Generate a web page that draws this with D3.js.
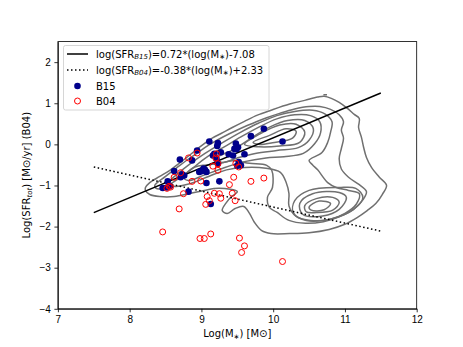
<!DOCTYPE html>
<meta charset="utf-8">
<style>
body { margin: 0; background: #fff; }
svg { font-family: "DejaVu Sans", sans-serif; font-size: 10px; }
.axis path, .axis line { stroke: #000; stroke-width: 0.8; }
.axis text { font-size: 10px; fill: #000; }
.contour { fill: none; stroke: #707070; stroke-width: 1.5; stroke-linejoin: round; }
</style>
<body>
<svg width="463" height="347"></svg>
<script src="https://d3js.org/d3.v7.min.js"></script>
<script>
// B15 points
var b15X = [8.46,8.53,8.56,8.62,8.70,8.71,8.73,8.76,8.82,8.87,8.94,8.97,9.01,9.03,9.07,9.07,9.11,9.13,9.16,9.18,9.21,9.22,9.23,9.23,9.25,9.27,9.38,9.44,9.46,9.48,9.51,9.52,9.55,9.60,9.69,9.87,10.13,9.05,9.49,9.50,8.52];
var b15Y = [-1.06,-0.90,-1.02,-0.65,-0.37,-0.80,-0.73,-0.76,-1.15,-0.39,-0.15,-0.67,-0.65,-0.59,-0.67,-0.94,0.07,-1.45,-0.27,-0.23,-0.35,-0.04,0.03,-0.47,-0.90,-0.19,-0.24,-0.27,-0.11,0.02,-0.07,-0.43,-0.51,-0.24,0.20,0.38,0.07,-0.62,-0.12,-0.52,-1.05];
// B04 points
var b04X = [8.46,8.52,8.55,8.57,8.62,8.69,8.71,8.75,8.82,8.87,8.94,8.98,8.99,9.04,9.06,9.08,9.11,9.13,9.16,9.18,9.20,9.21,9.23,9.23,9.25,9.27,9.39,9.43,9.45,9.47,9.48,9.52,9.53,9.56,9.60,9.69,9.87,10.13];
var b04Y = [-2.13,-1.07,-1.02,-1.04,-0.80,-1.57,-0.69,-1.20,-0.33,-0.90,-0.21,-2.29,-0.89,-2.29,-1.46,-1.27,-1.37,-2.18,-0.53,-1.19,-0.33,-0.23,-0.63,-0.47,-1.20,-1.31,-0.98,-1.19,-0.80,-1.37,-0.46,-0.55,-2.28,-2.63,-2.47,-0.90,-0.82,-2.85];

// fit lines (end points)
var fitX = [7.5, 11.5];
var fitB15 = [-1.66, 1.25];
var fitB04 = [-0.55, -2.11];

// contour levels (traced), outermost first
var contourA = [[8.22,-1.05],[8.28,-0.93],[8.42,-0.78],[8.56,-0.63],[8.69,-0.46],[8.83,-0.27],[8.95,-0.10],[9.04,0.02],[9.15,0.15],[9.28,0.27],[9.43,0.41],[9.60,0.56],[9.78,0.71],[9.97,0.83],[10.23,0.98],[10.44,1.07],[10.62,1.15],[10.71,1.17],[10.81,1.12],[10.92,1.02],[11.03,0.88],[11.13,0.73],[11.20,0.63],[11.19,0.41],[11.23,0.17],[11.26,-0.07],[11.30,-0.32],[11.37,-0.56],[11.48,-0.80],[11.58,-1.00],[11.52,-1.22],[11.43,-1.44],[11.31,-1.61],[11.17,-1.78],[10.99,-1.95],[10.78,-2.07],[10.50,-2.15],[10.23,-2.17],[9.97,-2.17],[9.84,-2.10],[9.74,-1.90],[9.67,-1.68],[9.59,-1.51],[9.47,-1.56],[9.36,-1.68],[9.29,-1.61],[9.35,-1.41],[9.42,-1.27],[9.50,-1.15],[9.25,-1.07],[9.04,-1.12],[8.83,-1.20],[8.62,-1.27],[8.42,-1.27],[8.28,-1.22],[8.22,-1.12]];
var contourB = [[8.35,-1.00],[8.50,-0.78],[8.65,-0.58],[8.80,-0.38],[8.95,-0.20],[9.10,-0.02],[9.30,0.18],[9.50,0.35],[9.70,0.50],[9.90,0.64],[10.10,0.76],[10.30,0.86],[10.50,0.92],[10.65,0.92],[10.80,0.85],[10.92,0.72],[10.98,0.55],[10.95,0.35],[10.98,0.15],[10.95,-0.10],[10.92,-0.35],[10.95,-0.60],[11.05,-0.80],[11.20,-0.98],[11.30,-1.15],[11.25,-1.35],[11.12,-1.58],[10.92,-1.76],[10.70,-1.88],[10.45,-1.92],[10.22,-1.85],[10.05,-1.65],[9.95,-1.54],[9.92,-1.29],[9.99,-1.05],[9.98,-0.63],[9.91,-0.51],[9.67,-0.46],[9.43,-0.40],[9.25,-0.46],[9.07,-0.50],[8.91,-0.55],[8.75,-0.75],[8.58,-0.95],[8.45,-1.08],[8.36,-1.06]];
var contourC = [[8.55,-0.92],[8.68,-0.70],[8.86,-0.45],[9.05,-0.22],[9.30,0.05],[9.55,0.30],[9.80,0.52],[10.05,0.70],[10.30,0.80],[10.55,0.83],[10.72,0.74],[10.82,0.55],[10.80,0.30],[10.76,0.05],[10.68,-0.20],[10.50,-0.39],[10.55,-0.50],[10.62,-0.62],[10.76,-0.93],[10.88,-1.05],[11.05,-1.12],[11.20,-1.20],[11.16,-1.45],[11.00,-1.68],[10.80,-1.82],[10.52,-1.85],[10.32,-1.75],[10.22,-1.50],[10.22,-1.20],[10.18,-0.92],[10.10,-0.68],[9.90,-0.58],[9.60,-0.56],[9.35,-0.62],[9.10,-0.78],[8.85,-0.95],[8.62,-1.02]];
var ridge1 = [[8.75,-0.80],[8.92,-0.52],[9.10,-0.28],[9.30,-0.08],[9.55,0.18],[9.80,0.42],[10.05,0.62],[10.30,0.72],[10.52,0.70],[10.65,0.55],[10.66,0.28],[10.58,0.02],[10.42,-0.22],[10.15,-0.30],[9.90,-0.33],[9.60,-0.42],[9.30,-0.58],[9.02,-0.76],[8.82,-0.88]];
var ridge2 = [[9.20,-0.35],[9.45,-0.12],[9.70,0.16],[9.95,0.42],[10.20,0.58],[10.44,0.58],[10.56,0.38],[10.50,0.10],[10.35,-0.08],[10.05,-0.15],[9.75,-0.22],[9.50,-0.33],[9.30,-0.44]];
var ridge3 = [[9.60,0.00],[9.81,0.25],[10.09,0.47],[10.32,0.49],[10.44,0.30],[10.37,0.05],[10.09,-0.04],[9.80,-0.06]];
var ridge4 = [[9.72,0.05],[9.95,0.22],[10.18,0.38],[10.32,0.32],[10.27,0.15],[9.99,0.04],[9.80,0.00]];
var peak1 = [[10.30,-1.37],[10.50,-1.12],[10.92,-1.05],[11.15,-1.07],[11.25,-1.29],[11.12,-1.58],[10.83,-1.80],[10.46,-1.85],[10.28,-1.66]];
var peak2 = [[10.37,-1.44],[10.55,-1.20],[10.92,-1.17],[11.02,-1.29],[10.92,-1.58],[10.69,-1.74],[10.41,-1.70]];
var peak3 = [[10.44,-1.49],[10.60,-1.32],[10.83,-1.29],[10.92,-1.41],[10.83,-1.60],[10.60,-1.66],[10.46,-1.64]];
var peak4 = [[10.50,-1.53],[10.64,-1.38],[10.80,-1.44],[10.71,-1.59],[10.53,-1.60]];
var closedContours = [contourA, contourB, contourC, ridge1, ridge2, ridge3, ridge4, peak1, peak2, peak3, peak4];
var speck = [[10.70, 1.21], [10.75, 1.21]];

var xTicks = [7, 8, 9, 10, 11, 12];
var yTicks = [-4, -3, -2, -1, 0, 1, 2];

var svg = d3.select("svg"),
    margin = {top: 41.6, right: 46.3, bottom: 38.2, left: 57.9},
    width = 463 - margin.left - margin.right,
    height = 347 - margin.top - margin.bottom;

var x = d3.scaleLinear().domain([7, 12]).range([0, width]),
    y = d3.scaleLinear().domain([-4, 2.5]).range([height, 0]);

var g = svg.append("g")
    .attr("transform", "translate(" + margin.left + "," + margin.top + ")");

var clip = svg.append("defs").append("clipPath").attr("id", "plotclip")
  .append("rect").attr("width", width).attr("height", height);

var plot = g.append("g").attr("clip-path", "url(#plotclip)");

var closedLine = d3.line()
    .x(function(d) { return x(d[0]); })
    .y(function(d) { return y(d[1]); })
    .curve(d3.curveCatmullRomClosed.alpha(0.5));

plot.selectAll(".contour")
  .data(closedContours)
  .enter().append("path")
    .attr("class", "contour")
    .attr("d", closedLine);

plot.append("path")
    .attr("class", "contour")
    .attr("d", d3.line().x(function(d) { return x(d[0]); }).y(function(d) { return y(d[1]); })(speck));

// fit lines
plot.append("line")
    .attr("x1", x(fitX[0])).attr("y1", y(fitB15[0]))
    .attr("x2", x(fitX[1])).attr("y2", y(fitB15[1]))
    .attr("stroke", "#000").attr("stroke-width", 1.5);
plot.append("line")
    .attr("x1", x(fitX[0])).attr("y1", y(fitB04[0]))
    .attr("x2", x(fitX[1])).attr("y2", y(fitB04[1]))
    .attr("stroke", "#000").attr("stroke-width", 1.5)
    .attr("stroke-dasharray", "1.5,2.5");

// points
plot.selectAll(".b15")
  .data(b15X)
  .enter().append("circle")
    .attr("class", "b15")
    .attr("cx", function(d) { return x(d); })
    .attr("cy", function(d, i) { return y(b15Y[i]); })
    .attr("r", 3.3)
    .attr("fill", "#00008b");

plot.selectAll(".b04")
  .data(b04X)
  .enter().append("circle")
    .attr("class", "b04")
    .attr("cx", function(d) { return x(d); })
    .attr("cy", function(d, i) { return y(b04Y[i]); })
    .attr("r", 3)
    .attr("fill", "none")
    .attr("stroke", "#ff0000")
    .attr("stroke-width", 1);

// axes
g.append("g")
    .attr("class", "axis")
    .attr("transform", "translate(0," + height + ")")
    .call(d3.axisBottom(x).tickValues(xTicks).tickSize(3.5).tickPadding(3.5).tickSizeOuter(0).tickFormat(d3.format("d")));

g.append("g")
    .attr("class", "axis")
    .call(d3.axisLeft(y).tickValues(yTicks).tickSize(3.5).tickPadding(3.5).tickSizeOuter(0).tickFormat(d3.format("d")));

g.append("rect")
    .attr("width", width).attr("height", height)
    .attr("fill", "none").attr("stroke", "#000").attr("stroke-width", 0.8);

// axis labels
var xl = svg.append("text")
    .attr("x", margin.left + width / 2)
    .attr("y", 337)
    .attr("text-anchor", "middle");
xl.append("tspan").text("Log(M");
xl.append("tspan").attr("font-size", "7px").attr("dy", 1.5).text("∗");
xl.append("tspan").attr("dy", -1.5).text(") [M⊙]");

var yl = svg.append("text")
    .attr("transform", "translate(30," + (margin.top + height / 2) + ") rotate(-90)")
    .attr("text-anchor", "middle");
yl.append("tspan").text("Log(SFR");
yl.append("tspan").attr("font-size", "7px").attr("font-style", "italic").attr("dy", 2).text("tot");
yl.append("tspan").attr("dy", -2).text(") [M⊙/yr] (B04)");

// legend
var lg = svg.append("g").attr("transform", "translate(63.5,45.5)");
lg.append("rect")
    .attr("width", 205.5).attr("height", 64.5).attr("rx", 2)
    .attr("fill", "#fff").attr("fill-opacity", 0.8)
    .attr("stroke", "#ccc").attr("stroke-width", 0.8);

var rows = [8.5, 24.5, 40.5, 55.5];
lg.append("line").attr("x1", 3.5).attr("x2", 24.5).attr("y1", rows[0]).attr("y2", rows[0])
    .attr("stroke", "#000").attr("stroke-width", 1.5);
lg.append("line").attr("x1", 3.5).attr("x2", 24.5).attr("y1", rows[1]).attr("y2", rows[1])
    .attr("stroke", "#000").attr("stroke-width", 1.5).attr("stroke-dasharray", "1.5,2.5");
lg.append("circle").attr("cx", 14).attr("cy", rows[2]).attr("r", 3.3).attr("fill", "#00008b");
lg.append("circle").attr("cx", 14).attr("cy", rows[3]).attr("r", 3).attr("fill", "none")
    .attr("stroke", "#ff0000").attr("stroke-width", 1);

function eqLabel(row, sub, rest) {
  var t = lg.append("text").attr("x", 32.5).attr("y", row + 3.6);
  t.append("tspan").text("log(SFR");
  t.append("tspan").attr("font-size", "7px").attr("font-style", "italic").attr("dy", 1.5).text(sub);
  t.append("tspan").attr("dy", -1.5).text(")=" + rest + "*(log(M");
  t.append("tspan").attr("font-size", "7px").attr("dy", 1.5).text("∗");
  t.append("tspan").attr("dy", -1.5).text(")" + (sub === "B15" ? "-7.08" : "+2.33"));
}
eqLabel(rows[0], "B15", "0.72");
eqLabel(rows[1], "B04", "-0.38");
lg.append("text").attr("x", 32.5).attr("y", rows[2] + 3.6).text("B15");
lg.append("text").attr("x", 32.5).attr("y", rows[3] + 3.6).text("B04");
</script>
</body>
